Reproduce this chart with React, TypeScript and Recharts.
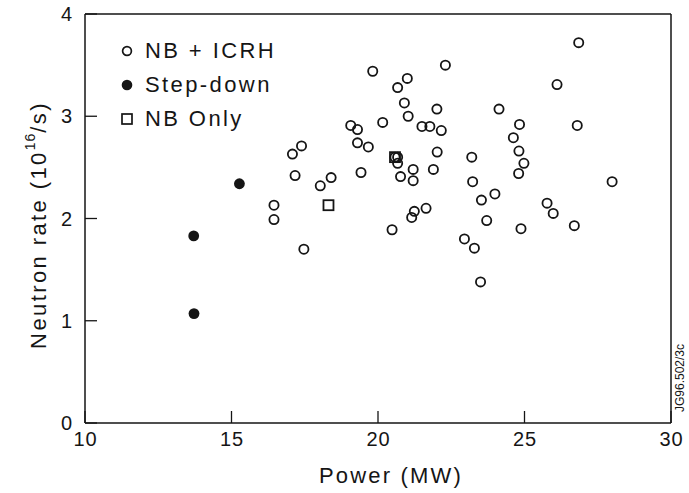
import React from 'react';
import { ScatterChart, Scatter, XAxis, YAxis, Legend } from 'recharts';

const nbIcrhPower = [16.45, 16.45, 17.08, 17.39, 17.17, 17.47, 18.03, 18.4, 19.07, 19.3, 19.3, 19.42, 19.67, 19.82, 20.16, 20.48, 20.58, 20.67, 20.67, 20.67, 20.77, 20.9, 21.0, 21.03, 21.15, 21.24, 21.2, 21.2, 21.64, 21.5, 21.77, 21.89, 22.01, 22.02, 22.16, 22.3, 22.95, 23.2, 23.23, 23.29, 23.5, 23.53, 23.71, 23.99, 24.13, 24.62, 24.81, 24.83, 24.98, 24.8, 24.88, 25.77, 25.98, 26.11, 26.7, 26.8, 26.85, 27.99];
const nbIcrhRate = [2.13, 1.99, 2.63, 2.71, 2.42, 1.7, 2.32, 2.4, 2.91, 2.87, 2.74, 2.45, 2.7, 3.44, 2.94, 1.89, 2.6, 2.6, 2.54, 3.28, 2.41, 3.13, 3.37, 3.0, 2.01, 2.07, 2.48, 2.37, 2.1, 2.9, 2.9, 2.48, 3.07, 2.65, 2.86, 3.5, 1.8, 2.6, 2.36, 1.71, 1.38, 2.18, 1.98, 2.24, 3.07, 2.79, 2.66, 2.92, 2.54, 2.44, 1.9, 2.15, 2.05, 3.31, 1.93, 2.91, 3.72, 2.36];
const stepDownPower = [13.71, 13.72, 15.27];
const stepDownRate = [1.83, 1.07, 2.34];
const nbOnlyPower = [18.31, 20.58];
const nbOnlyRate = [2.13, 2.6];
const xTicks = [10, 15, 20, 25, 30];
const yTicks = [0, 1, 2, 3, 4];
const seriesNames = ['NB + ICRH', 'Step-down', 'NB Only'];

const toPoints = (xs: number[], ys: number[]) => xs.map((x, i) => ({ x, y: ys[i] }));
const nbIcrhData = toPoints(nbIcrhPower, nbIcrhRate);
const stepDownData = toPoints(stepDownPower, stepDownRate);
const nbOnlyData = toPoints(nbOnlyPower, nbOnlyRate);

const INK = '#151515';
const FONT = '"Liberation Sans", Arial, Helvetica, sans-serif';

const HollowCircle = (p: any) => (
  <circle cx={p.cx} cy={p.cy} r={4.6} fill="none" stroke={INK} strokeWidth={1.8} />
);
const FilledCircle = (p: any) => (
  <circle cx={p.cx} cy={p.cy} r={5.4} fill={INK} stroke="none" />
);
const HollowSquare = (p: any) => (
  <rect x={p.cx - 5} y={p.cy - 5} width={10} height={10} fill="none" stroke={INK} strokeWidth={1.8} />
);

const XTick = (props: any) => {
  const { x, y, payload } = props;
  return (
    <g>
      <line x1={x} x2={x} y1={y} y2={y - 12} stroke={INK} strokeWidth={1.3} />
      <text x={x + 0.5} y={y + 16} textAnchor="middle" dominantBaseline="central" fontSize={20} letterSpacing={1} fill={INK} fontFamily={FONT}>
        {payload.value}
      </text>
    </g>
  );
};

const YTick = (props: any) => {
  const { x, y, payload } = props;
  return (
    <g>
      <line x1={x} x2={x + 12} y1={y} y2={y} stroke={INK} strokeWidth={1.3} />
      <text x={x - 13} y={y} textAnchor="end" dominantBaseline="central" fontSize={20} fill={INK} fontFamily={FONT}>
        {payload.value}
      </text>
    </g>
  );
};

const XTitle = () => (
  <text x={391} y={475} textAnchor="middle" dominantBaseline="central" fontSize={22} letterSpacing={2.2} fill={INK} fontFamily={FONT}>
    Power (MW)
  </text>
);

const YTitle = () => (
  <text transform="translate(38,225) rotate(-90)" textAnchor="middle" dominantBaseline="central" fontSize={22} letterSpacing={2.4} fill={INK} fontFamily={FONT}>
    Neutron rate (10
    <tspan dy={-8} fontSize={14} letterSpacing={1}>16</tspan>
    <tspan dy={8}>/s)</tspan>
  </text>
);

const SideNote = () => (
  <text transform="translate(680,378) rotate(-90)" textAnchor="middle" dominantBaseline="central" fontSize={12} fill={INK} fontFamily={FONT}>
    JG96.502/3c
  </text>
);

const markers = [
  <circle cx={7} cy={7} r={4.4} fill="none" stroke={INK} strokeWidth={1.7} />,
  <circle cx={7} cy={7} r={5.3} fill={INK} />,
  <rect x={2} y={2} width={10} height={10} fill="none" stroke={INK} strokeWidth={1.7} />,
];

const LegendContent = () => (
  <div style={{ fontFamily: FONT, fontSize: 22, letterSpacing: 2.4, color: INK }}>
    {seriesNames.map((name, i) => (
      <div key={name} style={{ display: 'flex', alignItems: 'center', height: 34 }}>
        <svg width={14} height={14} style={{ marginRight: 11 }}>{markers[i]}</svg>
        <span>{name}</span>
      </div>
    ))}
  </div>
);

export default function App() {
  return (
    <div style={{ position: 'absolute', left: 0, top: 0, width: 689, height: 493, background: '#fff' }}>
      <ScatterChart width={689} height={493} margin={{ top: 13, right: 17, bottom: 30, left: 5 }}>
        <XAxis
          xAxisId="main"
          type="number"
          dataKey="x"
          domain={[10, 30]}
          ticks={xTicks}
          allowDataOverflow
          height={40}
          tickSize={0}
          tickMargin={0}
          tickLine={false}
          axisLine={{ stroke: INK, strokeWidth: 1.5 }}
          tick={<XTick />}
          label={{ content: () => <XTitle /> }}
        />
        <XAxis
          xAxisId="top"
          orientation="top"
          type="number"
          domain={[10, 30]}
          height={1}
          tick={false}
          tickLine={false}
          axisLine={{ stroke: INK, strokeWidth: 1.5 }}
        />
        <YAxis
          yAxisId="main"
          type="number"
          dataKey="y"
          domain={[0, 4]}
          ticks={yTicks}
          allowDataOverflow
          width={80}
          tickSize={0}
          tickMargin={0}
          tickLine={false}
          axisLine={{ stroke: INK, strokeWidth: 1.5 }}
          tick={<YTick />}
          label={{ content: () => <YTitle /> }}
        />
        <YAxis
          yAxisId="right"
          orientation="right"
          type="number"
          domain={[0, 4]}
          width={1}
          tick={false}
          tickLine={false}
          axisLine={{ stroke: INK, strokeWidth: 1.5 }}
          label={{ content: () => <SideNote /> }}
        />
        <Legend
          layout="vertical"
          align="center"
          verticalAlign="middle"
          content={<LegendContent />}
          wrapperStyle={{ left: 120, top: 34, width: 220, height: 110 }}
        />
        <Scatter name={seriesNames[0]} data={nbIcrhData} xAxisId="main" yAxisId="main" shape={HollowCircle} isAnimationActive={false} />
        <Scatter name={seriesNames[1]} data={stepDownData} xAxisId="main" yAxisId="main" shape={FilledCircle} isAnimationActive={false} />
        <Scatter name={seriesNames[2]} data={nbOnlyData} xAxisId="main" yAxisId="main" shape={HollowSquare} isAnimationActive={false} />
      </ScatterChart>
    </div>
  );
}
